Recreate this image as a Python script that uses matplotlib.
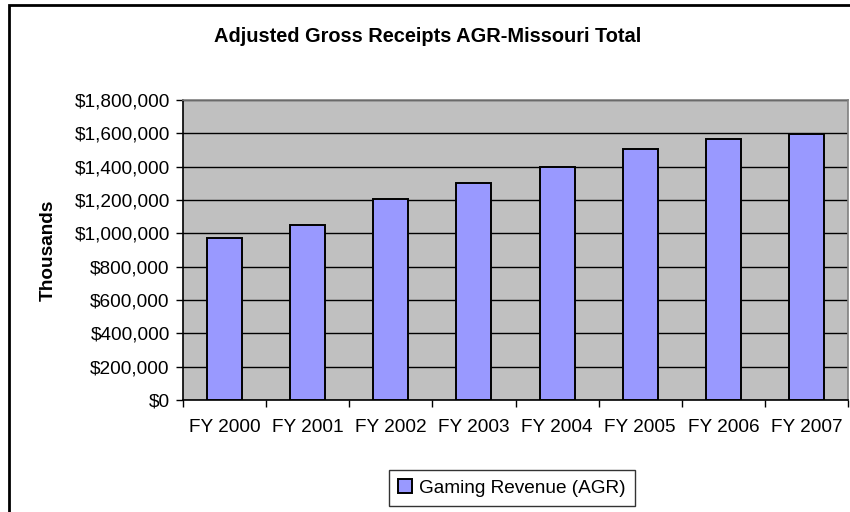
import matplotlib
matplotlib.use("Agg")
import matplotlib.pyplot as plt
from matplotlib.patches import Rectangle
from matplotlib.ticker import FuncFormatter, MultipleLocator

# AGR values (thousands of dollars)
years = ["FY 2000", "FY 2001", "FY 2002", "FY 2003",
         "FY 2004", "FY 2005", "FY 2006", "FY 2007"]
revenue = [974000, 1052000, 1204000, 1302000,
           1400000, 1508000, 1564000, 1598000]

plt.rcParams['font.family'] = ['Liberation Sans', 'DejaVu Sans']

fig = plt.figure(figsize=(8.5, 5.12), dpi=100)
ax = fig.add_axes([183 / 850, 1 - 400 / 512, 665 / 850, 300 / 512])

ax.set_facecolor('#C0C0C0')
x = list(range(len(years)))
ax.bar(x, revenue, width=0.42, color='#9999FF', edgecolor='black',
       linewidth=1.4, zorder=3, label='Gaming Revenue (AGR)')

ax.set_ylim(0, 1800000)
ax.set_xlim(-0.5, len(years) - 0.5)
ax.yaxis.set_major_locator(MultipleLocator(200000))
ax.yaxis.set_major_formatter(FuncFormatter(lambda v, p: '${:,.0f}'.format(v)))
ax.grid(axis='y', color='black', linewidth=1.0, zorder=1)
ax.set_axisbelow(True)

# category ticks sit between the bars, labels centred under them
ax.set_xticks([i - 0.5 for i in range(len(years) + 1)])
ax.set_xticklabels([])
ax.set_xticks(x, minor=True)
ax.set_xticklabels(years, minor=True)
ax.tick_params(axis='x', which='minor', length=0, pad=14, labelsize=13.7)
ax.tick_params(axis='x', which='major', length=5, width=1, direction='out')
ax.tick_params(axis='y', length=5, width=1, direction='out', labelsize=13.7, pad=4.5)

for s in ['left', 'bottom']:
    ax.spines[s].set_color('black')
    ax.spines[s].set_linewidth(1.2)
for s in ['top', 'right']:
    ax.spines[s].set_color('#808080')
    ax.spines[s].set_linewidth(1.2)

ax.set_ylabel('Thousands', fontsize=13.7, fontweight='bold', labelpad=13)
fig.text(428 / 850, 1 - 37 / 512, 'Adjusted Gross Receipts AGR-Missouri Total',
         ha='center', va='center', fontsize=14.4, fontweight='bold')

leg = fig.legend(loc='center', bbox_to_anchor=(512 / 850, 1 - 488 / 512),
                 fontsize=13.7, frameon=True, fancybox=False, handlelength=0.7,
                 handleheight=0.7, handletextpad=0.4, borderpad=0.5)
leg.get_frame().set_edgecolor('black')
leg.get_frame().set_linewidth(1.0)

# outer chart border (runs off the right and bottom edges)
fig.patches.append(Rectangle((9 / 850, -0.1), 1.2, 1.1 - 5 / 512,
                             transform=fig.transFigure, fill=False,
                             edgecolor='black', linewidth=2))

fig.savefig('out.png', dpi=100, facecolor='white')
